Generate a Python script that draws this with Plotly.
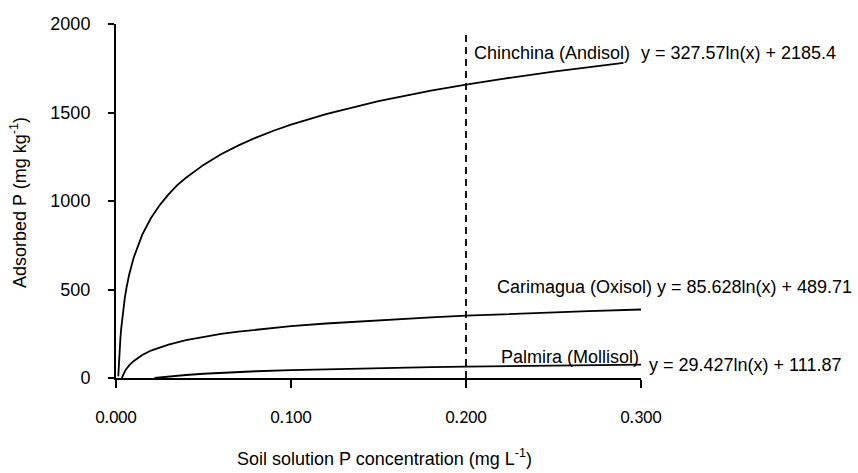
import plotly.graph_objects as go

# Data
chin_x = [0.0013, 0.0016, 0.002, 0.0025, 0.003, 0.004, 0.005, 0.006, 0.0075, 0.01, 0.0125, 0.015,
          0.02, 0.025, 0.03, 0.035, 0.04, 0.05, 0.06, 0.07, 0.08, 0.09, 0.1, 0.12, 0.15, 0.18,
          0.2, 0.22, 0.25, 0.27, 0.29]
chin_y = [9, 76, 150, 223, 282, 377, 450, 510, 583, 677, 750, 810,
          904, 977, 1037, 1090, 1131, 1204, 1264, 1314, 1358, 1397, 1431, 1491, 1564, 1624,
          1658, 1689, 1731, 1756, 1780]

cari_x = [0.0033, 0.0035, 0.004, 0.005, 0.006, 0.0075, 0.01, 0.0125, 0.015, 0.02, 0.025, 0.03,
          0.04, 0.05, 0.06, 0.07, 0.08, 0.1, 0.12, 0.15, 0.18, 0.2, 0.22, 0.25, 0.27, 0.3]
cari_y = [0, 5, 17, 36, 52, 71, 95, 115, 130, 155, 174, 189,
          214, 233, 249, 262, 273, 293, 308, 327, 343, 352, 360, 371, 378, 387]

palm_x = [0.022, 0.03, 0.04, 0.05, 0.06, 0.08, 0.1, 0.12, 0.15, 0.18, 0.2, 0.22, 0.25, 0.3]
palm_y = [0, 9, 17, 24, 29, 38, 44, 49, 56, 61, 64, 67, 71, 76]

x_ticks = [0.0, 0.1, 0.2, 0.3]
x_tick_labels = ["0.000", "0.100", "0.200", "0.300"]
y_ticks = [0, 500, 1000, 1500, 2000]

ref_x = 0.2
ref_top = 1960

labels = ["Chinchina (Andisol)", "Carimagua (Oxisol)", "Palmira (Mollisol)"]
equations = ["y = 327.57ln(x) + 2185.4", "y = 85.628ln(x) + 489.71", "y = 29.427ln(x) + 111.87"]

W, H = 858, 473
L, R, T, B = 116, 217, 24, 95
PW, PH = W - L - R, H - T - B


def px(x):
    return (x - L) / PW


def py(y):
    return (H - B - y) / PH


fig = go.Figure()
for xs, ys in [(chin_x, chin_y), (cari_x, cari_y), (palm_x, palm_y)]:
    fig.add_trace(go.Scatter(x=xs, y=ys, mode="lines",
                             line=dict(color="black", width=1.8), showlegend=False,
                             hoverinfo="skip"))

fig.add_shape(type="line", x0=ref_x, x1=ref_x, y0=0, y1=ref_top, xref="x", yref="y",
              line=dict(color="black", width=1.8, dash="7px,5px"))

font = dict(family="Arial, Liberation Sans, sans-serif", size=18, color="black")

label_pos = [(472, 53), (495, 287), (499, 357)]
eq_pos = [(639, 53), (655, 287), (647, 365)]
for txt, (x, y) in zip(labels, label_pos):
    fig.add_annotation(text=txt, x=px(x), y=py(y), xref="paper", yref="paper",
                       xanchor="left", yanchor="middle", showarrow=False, font=font)
for txt, (x, y) in zip(equations, eq_pos):
    fig.add_annotation(text=txt, x=px(x), y=py(y), xref="paper", yref="paper",
                       xanchor="left", yanchor="middle", showarrow=False, font=font)

fig.add_annotation(text="Soil solution P concentration (mg L<sup>-1</sup>)",
                   x=px(384), y=py(457), xref="paper", yref="paper",
                   xanchor="center", yanchor="middle", showarrow=False, font=font)
fig.add_annotation(text="Adsorbed P (mg kg<sup>-1</sup>)", textangle=-90,
                   x=px(18), y=py(203), xref="paper", yref="paper",
                   xanchor="center", yanchor="middle", showarrow=False, font=font)

fig.update_xaxes(range=[0, 0.3], tickvals=x_ticks, ticktext=x_tick_labels,
                 showgrid=False, zeroline=False, showline=True, linecolor="black", linewidth=2,
                 ticks="outside", ticklen=8, tickwidth=2, tickcolor="black",
                 tickfont=dict(family="Carlito, Calibri, Noto Sans, sans-serif", size=18, color="black"),
                 ticklabelstandoff=13)
fig.update_yaxes(range=[0, 2000], tickvals=y_ticks,
                 showgrid=False, zeroline=False, showline=True, linecolor="black", linewidth=2,
                 ticks="outside", ticklen=6, tickwidth=2, tickcolor="black",
                 tickfont=font, ticklabelstandoff=14)

fig.update_layout(width=W, height=H, margin=dict(l=L, r=R, t=T, b=B),
                  plot_bgcolor="white", paper_bgcolor="white", showlegend=False)

fig.write_html("out.html")
